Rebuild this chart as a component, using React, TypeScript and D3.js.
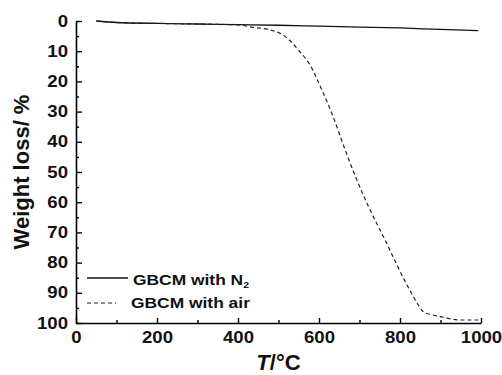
import { useEffect, useRef } from "react"
import * as d3 from "d3"

// TGA curves
const n2Temp = [50, 100, 200, 300, 400, 500, 600, 700, 800, 900, 993]
const n2Loss = [0, 0.5, 0.8, 1.0, 1.2, 1.4, 1.7, 2.0, 2.3, 2.8, 3.2]

const airTemp = [50, 100, 200, 300, 400, 437, 481, 511, 553, 578, 607, 635, 660, 690, 726, 763, 788, 808, 830, 845, 858, 880, 907, 948, 993]
const airLoss = [0, 0.5, 0.8, 1.0, 1.3, 2.1, 3.0, 4.6, 10.2, 14.6, 22.8, 31.7, 41, 51.5, 62.5, 72.5, 79.5, 85, 90.5, 94, 96.3, 97.3, 98.1, 99, 99]

const xTicks = [0, 200, 400, 600, 800, 1000]
const xMinor = [100, 300, 500, 700, 900]
const yTicks = [0, 10, 20, 30, 40, 50, 60, 70, 80, 90, 100]
const yMinor = [5, 15, 25, 35, 45, 55, 65, 75, 85, 95]

const FONT = "Liberation Sans, Arial, sans-serif"
const STRETCH = 1.16

export default function App() {
  const svgRef = useRef<SVGSVGElement>(null)

  useEffect(() => {
    if (!svgRef.current) return
    const width = 502
    const height = 375
    const m = { left: 76, right: 21, top: 21, bottom: 52 }

    const svg = d3.select(svgRef.current).attr("width", width).attr("height", height)
    svg.selectAll("*").remove()

    const x = d3.scaleLinear().domain([0, 1000]).range([m.left, width - m.right])
    const y = d3.scaleLinear().domain([0, 100]).range([m.top, height - m.bottom])

    const line = d3
      .line<[number, number]>()
      .x((d) => x(d[0]))
      .y((d) => y(d[1]))
      .curve(d3.curveMonotoneX)

    svg
      .append("path")
      .attr("d", line(n2Temp.map((t, i) => [t, n2Loss[i]])))
      .attr("fill", "none")
      .attr("stroke", "#111")
      .attr("stroke-width", 1.3)

    svg
      .append("path")
      .attr("d", line(airTemp.map((t, i) => [t, airLoss[i]])))
      .attr("fill", "none")
      .attr("stroke", "#222")
      .attr("stroke-width", 1.2)
      .attr("stroke-dasharray", "4,3")

    // axes, ticks pointing inward
    const fmt = d3.format("d")
    const gx = svg.append("g").attr("transform", `translate(0,${y(100)})`)
    gx.call(d3.axisBottom(x).tickValues(xTicks).tickFormat(fmt).tickSize(-5).tickSizeOuter(0).tickPadding(9))
    const gxm = svg.append("g").attr("transform", `translate(0,${y(100)})`)
    gxm.call(d3.axisBottom(x).tickValues(xMinor).tickSize(-3).tickSizeOuter(0).tickFormat(() => ""))
    gxm.select(".domain").remove()

    const gy = svg.append("g").attr("transform", `translate(${x(0)},0)`)
    gy.call(d3.axisLeft(y).tickValues(yTicks).tickFormat(fmt).tickSize(-6).tickSizeOuter(0).tickPadding(8))
    const gym = svg.append("g").attr("transform", `translate(${x(0)},0)`)
    gym.call(d3.axisLeft(y).tickValues(yMinor).tickSize(-3).tickSizeOuter(0).tickFormat(() => ""))
    gym.select(".domain").remove()

    svg.selectAll(".domain").attr("stroke", "#000").attr("stroke-width", 1.6)
    svg.selectAll(".tick line").attr("stroke", "#000").attr("stroke-width", 1.4)
    svg
      .selectAll(".tick text")
      .attr("font-family", FONT)
      .attr("font-weight", "bold")
      .attr("font-size", 16)
      .attr("fill", "#111")
      .classed("stretch", true)

    // axis titles
    svg
      .append("text")
      .attr("transform", `translate(29,${(y(0) + y(100)) / 2}) rotate(-90)`)
      .attr("text-anchor", "middle")
      .attr("font-family", FONT)
      .attr("font-weight", "bold")
      .attr("font-size", 22)
      .attr("fill", "#111")
      .text("Weight loss/ %")

    const xt = svg
      .append("text")
      .attr("x", (x(0) + x(1000)) / 2)
      .attr("y", 370)
      .attr("text-anchor", "middle")
      .attr("font-family", FONT)
      .attr("font-weight", "bold")
      .attr("font-size", 22)
      .attr("fill", "#111")
    xt.append("tspan").attr("font-style", "italic").text("T")
    xt.append("tspan").text("/°C")

    // legend
    const lg = svg.append("g")
    lg.append("line").attr("x1", 87).attr("x2", 128).attr("y1", 278).attr("y2", 278)
      .attr("stroke", "#111").attr("stroke-width", 1.3)
    const t1 = lg.append("text").attr("x", 133).attr("y", 285).classed("stretch", true)
    t1.append("tspan").text("GBCM with N")
    t1.append("tspan").attr("font-size", 9).attr("dy", 3).text("2")

    lg.append("line").attr("x1", 87).attr("x2", 116).attr("y1", 303).attr("y2", 303)
      .attr("stroke", "#222").attr("stroke-width", 1.2).attr("stroke-dasharray", "4,3")
    lg.append("text").attr("x", 131).attr("y", 308).classed("stretch", true).text("GBCM with air")

    lg.selectAll("text")
      .attr("font-family", FONT)
      .attr("font-weight", "bold")
      .attr("font-size", 15)
      .attr("fill", "#111")

    // the original type is a little wider than Arial
    svg.selectAll<SVGTextElement, unknown>("text.stretch").each(function () {
      const len = this.getComputedTextLength()
      d3.select(this).attr("textLength", len * STRETCH).attr("lengthAdjust", "spacingAndGlyphs")
    })
  }, [])

  return (
    <svg
      ref={svgRef}
      style={{ position: "absolute", left: 0, top: 0, display: "block", background: "#fff" }}
    />
  )
}
